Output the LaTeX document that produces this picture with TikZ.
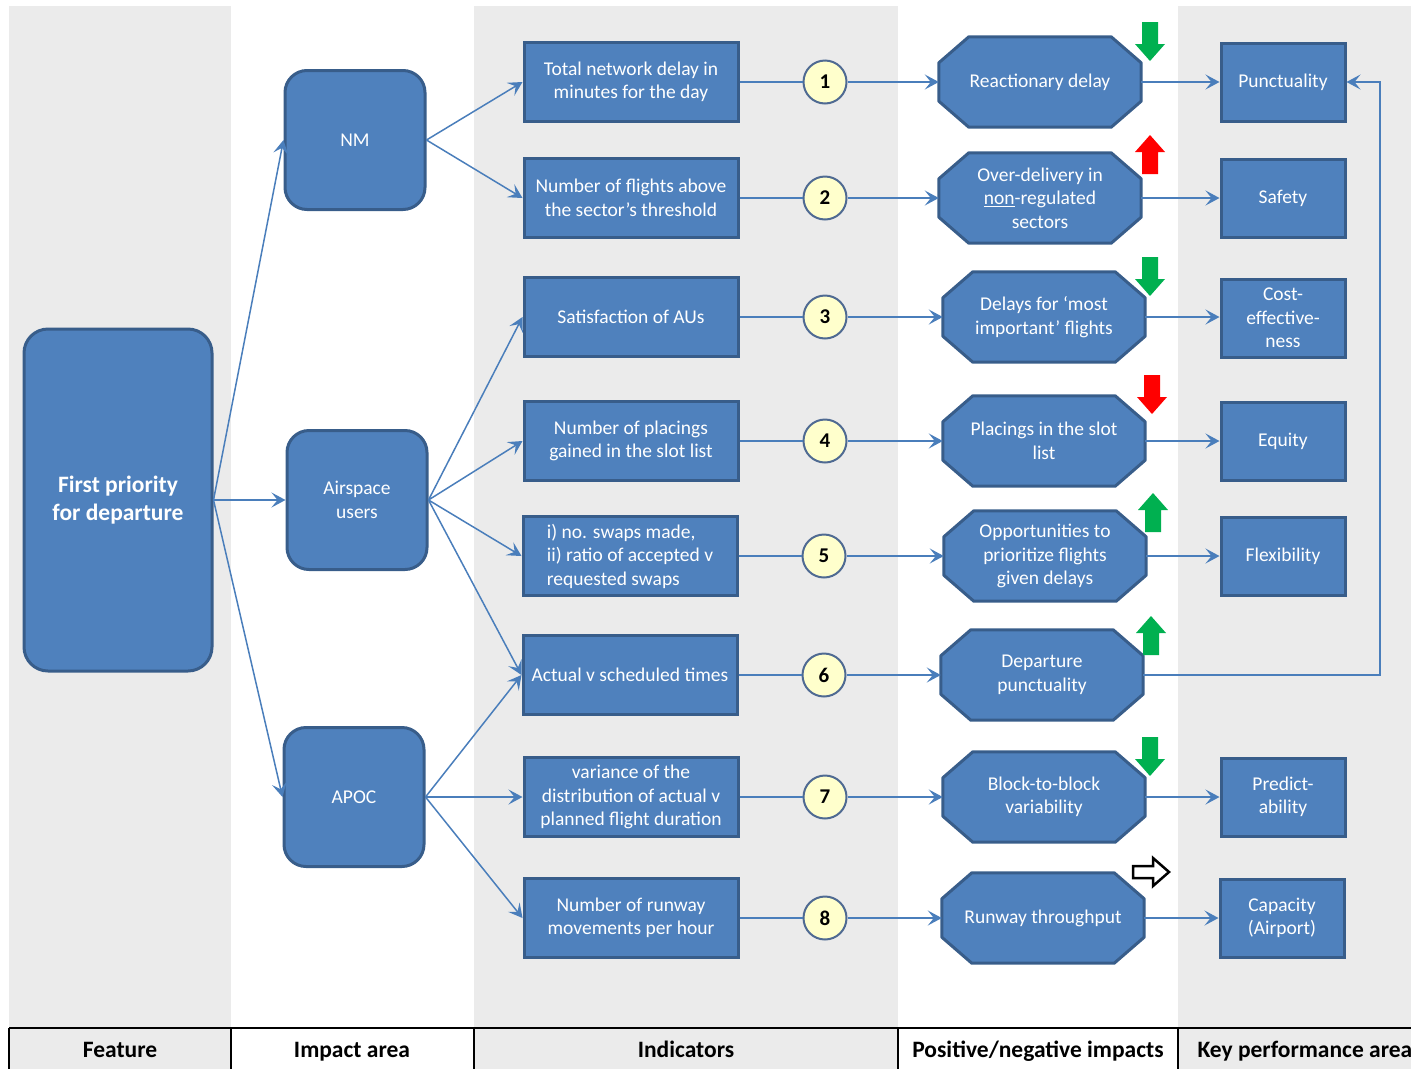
\documentclass[tikz,border=0pt]{standalone}
\usepackage{fontspec}
\setmainfont{Carlito}
\usetikzlibrary{arrows.meta,calc}
\definecolor{boxfill}{HTML}{4F81BD}
\definecolor{boxline}{HTML}{385D8A}
\definecolor{connc}{HTML}{4A7EBB}
\definecolor{colgray}{HTML}{EBEBEB}
\definecolor{circfill}{HTML}{FFFFCC}
\definecolor{circline}{HTML}{4F6A92}
\definecolor{upgreen}{HTML}{00B050}
\definecolor{downred}{HTML}{FF0000}
\pgfdeclarelayer{bg}
\pgfdeclarelayer{mid}
\pgfsetlayers{bg,mid,main}
\tikzset{
 basebox/.style={fill=boxfill, draw=boxline, line width=3pt, text=white, align=center,
   font=\fontsize{19.5}{23.5}\selectfont, inner sep=2pt},
 featbox/.style={basebox, rounded corners=24pt, minimum width=188pt, minimum height=342pt,
   font=\bfseries\fontsize{23.5}{28}\selectfont},
 areabox/.style={basebox, rounded corners=22pt, minimum width=140pt, minimum height=139pt},
 indbox/.style={basebox, minimum width=214pt, minimum height=79pt},
 kpabox/.style={basebox, minimum width=124pt, minimum height=78pt},
 octbox/.style={text=white, align=center, font=\fontsize{19.5}{23.5}\selectfont,
   minimum width=202pt, minimum height=90pt, inner sep=0pt},
 octdraw/.style={fill=boxfill, draw=boxline, line width=3pt, line join=round},
 numcirc/.style={circle, fill=circfill, draw=circline, line width=2pt, minimum size=43pt,
   inner sep=0pt, font=\bfseries\fontsize{21}{24}\selectfont},
 link/.style={draw=connc, line width=1.5pt, -{Stealth[length=14pt,width=15pt,inset=6pt]}},
 plainlink/.style={draw=connc, line width=1.5pt},
 hdr/.style={font=\bfseries\fontsize{23.5}{26}\selectfont, text height=17pt, text depth=5pt},
 pics/blockdown/.style={code={\fill[#1] (-8,-20) -- (8,-20) -- (8,2) -- (15,2) -- (0,19) -- (-15,2) -- (-8,2) -- cycle;}},
 pics/blockup/.style={code={\fill[#1] (-8,20) -- (8,20) -- (8,-2) -- (15,-2) -- (0,-19) -- (-15,-2) -- (-8,-2) -- cycle;}},
 pics/hollowright/.style={code={\draw[line width=2.5pt, fill=white, line join=miter] (-18,-6) -- (2,-6) -- (2,-14) -- (18,0) -- (2,14) -- (2,6) -- (-18,6) -- cycle;}},
}
\begin{document}
\begin{tikzpicture}[x=1pt,y=-1pt]
\useasboundingbox (0,0) rectangle (1411,1069);
\begin{pgfonlayer}{bg}
\fill[colgray] (9,6) rectangle (231,1069);
\fill[colgray] (474,6) rectangle (898,1069);
\fill[colgray] (1178,6) rectangle (1411,1069);
\draw[line width=1.5pt] (9,1028) -- (1411,1028);
\foreach \x in {9,231,474,898,1178} \draw[line width=1.2pt] (\x,1028) -- (\x,1069);
\end{pgfonlayer}

% feature and impact areas
\node[featbox] (F) at (118,500) {First priority\\for departure};
\node[areabox] (NM) at (355,140) {NM};
\node[areabox] (AU) at (357,500) {Airspace\\users};
\node[areabox] (AP) at (354,797) {APOC};

% indicators
\node[indbox] (i1) at (631,82) {Total network delay in\\minutes for the day};
\node[indbox] (i2) at (631,198) {Number of flights above\\the sector’s threshold};
\node[indbox] (i3) at (631,317) {Satisfaction of AUs};
\node[indbox] (i4) at (631,441) {Number of placings\\gained in the slot list};
\node[indbox, align=left] (i5) at (630,556) {i) no. swaps made,\\ii) ratio of accepted v\\requested swaps};
\node[indbox] (i6) at (630,675) {Actual v scheduled times};
\node[indbox] (i7) at (631,797) {variance of the\\distribution of actual v\\planned flight duration};
\node[indbox] (i8) at (631,918) {Number of runway\\movements per hour};

% number circles
\node[numcirc] (c1) at (825,82) {1};
\node[numcirc] (c2) at (825,198) {2};
\node[numcirc] (c3) at (825,317) {3};
\node[numcirc] (c4) at (825,441) {4};
\node[numcirc] (c5) at (824,556) {5};
\node[numcirc] (c6) at (824,675) {6};
\node[numcirc] (c7) at (825,797) {7};
\node[numcirc] (c8) at (825,918) {8};

% impacts (octagons)
\node[octbox] (o1) at (1040,82) {Reactionary delay};
\node[octbox] (o2) at (1040,198) {Over-delivery in\\\underline{non}-regulated\\sectors};
\node[octbox] (o3) at (1044,317) {Delays for ‘most\\important’ flights};
\node[octbox] (o4) at (1044,441) {Placings in the slot\\list};
\node[octbox] (o5) at (1045,556) {Opportunities to\\prioritize flights\\given delays};
\node[octbox] (o6) at (1042,675) {Departure\\punctuality};
\node[octbox] (o7) at (1044,797) {Block-to-block\\variability};
\node[octbox] (o8) at (1043,918) {Runway throughput};
\begin{pgfonlayer}{mid}
\foreach \n in {o1,o2,o3,o4,o5,o6,o7,o8}
  \draw[octdraw] ($(\n.north west)+(30,0)$) -- ($(\n.north east)+(-30,0)$) -- ($(\n.north east)+(0,26)$)
    -- ($(\n.south east)+(0,-26)$) -- ($(\n.south east)+(-30,0)$) -- ($(\n.south west)+(30,0)$)
    -- ($(\n.south west)+(0,-26)$) -- ($(\n.north west)+(0,26)$) -- cycle;
\end{pgfonlayer}

% key performance areas
\node[kpabox] (k1) at (1283,82) {Punctuality};
\node[kpabox] (k2) at (1283,198) {Safety};
\node[kpabox] (k3) at (1283,318) {Cost-\\effective-\\ness};
\node[kpabox] (k4) at (1283,441) {Equity};
\node[kpabox] (k5) at (1283,556) {Flexibility};
\node[kpabox] (k7) at (1283,797) {Predict-\\ability};
\node[kpabox] (k8) at (1282,918) {Capacity\\(Airport)};

% connectors
\draw[link] (F.east) -- (NM.west);
\draw[link] (F.east) -- (AU.west);
\draw[link] (F.east) -- (AP.west);
\draw[link] (NM.east) -- (i1.west);
\draw[link] (NM.east) -- (i2.west);
\draw[link] (AU.east) -- (i3.west);
\draw[link] (AU.east) -- (i4.west);
\draw[link] (AU.east) -- (i5.west);
\draw[link] (AU.east) -- (i6.west);
\draw[link] (AP.east) -- (i6.west);
\draw[link] (AP.east) -- (i7.west);
\draw[link] (AP.east) -- (i8.west);
\foreach \k in {1,...,8} {
  \draw[plainlink] (i\k.east) -- (c\k.west);
  \draw[link] (c\k.east) -- (o\k.west);
}
\foreach \k in {1,2,4,5,7,8}
  \draw[link] (o\k.east) -- (k\k.west);
\draw[link] (o3.east) -- (o3.east -| k3.west);
\coordinate (bend) at (1380,675);
\draw[link] (o6.east) -- (bend) |- (k1.east);

% impact direction arrows
\pic at (1150,42) {blockdown=upgreen};
\pic at (1150,154) {blockup=downred};
\pic at (1150,277) {blockdown=upgreen};
\pic at (1152,395) {blockdown=downred};
\pic at (1153,512) {blockup=upgreen};
\pic at (1151,635) {blockup=upgreen};
\pic at (1150,757) {blockdown=upgreen};
\pic at (1151,872) {hollowright};

% header row
\node[hdr] (h1) at (120,1051) {Feature};
\node[hdr] (h2) at (352,1051) {Impact area};
\node[hdr] (h3) at (686,1051) {Indicators};
\node[hdr] (h4) at (1038,1051) {Positive/negative impacts};
\node[hdr, anchor=west] (h5) at (1194,1051) {Key performance area};
\end{tikzpicture}
\end{document}
